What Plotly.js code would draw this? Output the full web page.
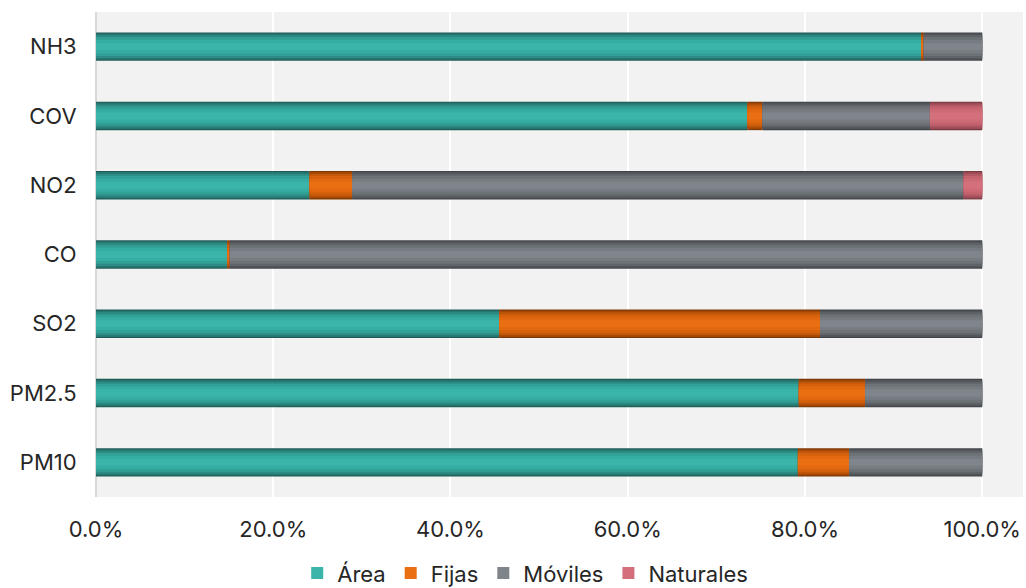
<!DOCTYPE html>
<html>
<head>
<meta charset="utf-8">
<script src="https://cdn.plot.ly/plotly-3.0.1.min.js"></script>
<style>html,body{margin:0;padding:0;background:#fff;}#chart{width:1026px;height:588px;}</style>
</head>
<body>
<div id="chart"></div>
<script>
// Categories (top to bottom)
const categories = ["NH3", "COV", "NO2", "CO", "SO2", "PM2.5", "PM10"];
// Series values (% of total emissions)
const area      = [93.1, 73.5, 24.1, 14.8, 45.5, 79.3, 79.2];
const fijas     = [0.3, 1.7, 4.8, 0.3, 36.2, 7.5, 5.8];
const moviles   = [6.6, 18.9, 69.0, 84.9, 18.3, 13.2, 15.0];
const naturales = [0.0, 5.9, 2.1, 0.0, 0.0, 0.0, 0.0];
const seriesNames = ["Área", "Fijas", "Móviles", "Naturales"];
const tickVals = [0, 20, 40, 60, 80, 100];
const tickLabels = ["0.0%", "20.0%", "40.0%", "60.0%", "80.0%", "100.0%"];

// shading palettes (edge -> centre) to mimic the cylinder look
const palettes = [
  ["#1f5b56", "#267570", "#2c8c84", "#31a096", "#36ada3", "#3bb5aa"],
  ["#7d3705", "#a04707", "#c0570a", "#d6610d", "#e2690f", "#ea6f13"],
  ["#404347", "#515559", "#606469", "#6d7277", "#777c82", "#7f858b"],
  ["#7a3a42", "#9a4a55", "#b25764", "#c4626e", "#ce6a76", "#d4707c"]
];
const layerWidths = [0.41, 0.38, 0.33, 0.27, 0.19, 0.10];

const allSeries = [area, fijas, moviles, naturales];
const traces = [];
const cum = categories.map(() => 0);
allSeries.forEach((vals, si) => {
  const base = cum.slice();
  layerWidths.forEach((w, li) => {
    const last = li === layerWidths.length - 1;
    traces.push({
      type: "bar",
      orientation: "h",
      y: categories,
      x: vals,
      base: base,
      width: w,
      name: seriesNames[si],
      legendgroup: seriesNames[si],
      showlegend: last,
      marker: {color: palettes[si][li], line: {width: 0}},
      hovertemplate: seriesNames[si] + ": %{x:.1f}%<extra></extra>"
    });
  });
  vals.forEach((v, i) => { cum[i] += v; });
});

const layout = {
  width: 1026,
  height: 588,
  margin: {l: 96, r: 3, t: 12, b: 91},
  paper_bgcolor: "#ffffff",
  plot_bgcolor: "#f1f2f1",
  barmode: "overlay",
  font: {family: "Inter, sans-serif", size: 22, color: "#262626"},
  xaxis: {
    range: [0, 104.6],
    tickmode: "array",
    tickvals: tickVals,
    ticktext: tickLabels,
    showgrid: true,
    gridcolor: "#ffffff",
    gridwidth: 2,
    zeroline: true,
    zerolinecolor: "#d9d9d9",
    zerolinewidth: 2,
    showline: false,
    ticks: "outside",
    ticklen: 13,
    tickcolor: "rgba(0,0,0,0)",
    tickfont: {size: 22}
  },
  yaxis: {
    type: "category",
    categoryorder: "array",
    categoryarray: categories,
    range: [6.5, -0.5],
    showgrid: false,
    zeroline: false,
    ticks: "outside",
    ticklen: 14,
    tickcolor: "rgba(0,0,0,0)",
    tickfont: {size: 22}
  },
  legend: {
    orientation: "h",
    x: 0.463,
    xanchor: "center",
    yref: "container",
    y: 0.025,
    yanchor: "middle",
    font: {size: 22},
    itemwidth: 30,
    tracegroupgap: 0
  },
  showlegend: true
};

Plotly.newPlot("chart", traces, layout, {displayModeBar: false, staticPlot: true});
</script>
</body>
</html>
